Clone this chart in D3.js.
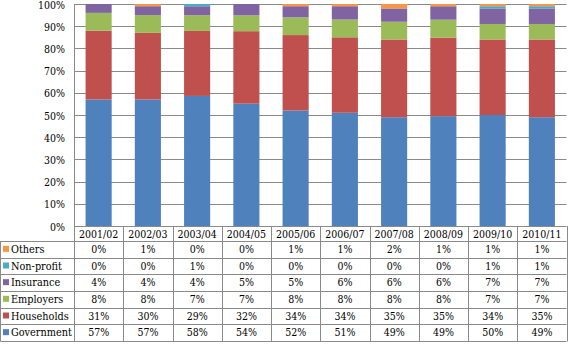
<!DOCTYPE html>
<html><head><meta charset="utf-8">
<script src="https://cdn.jsdelivr.net/npm/d3@7"></script>
<style>body{margin:0;background:#fff}svg{display:block}text{font-family:"DejaVu Serif Condensed","DejaVu Serif",serif}</style>
</head><body><svg id="c" width="568" height="345"></svg>
<script>
const years = ["2001/02","2002/03","2003/04","2004/05","2005/06","2006/07","2007/08","2008/09","2009/10","2010/11"];
const seriesNames = ["Government","Households","Employers","Insurance","Non-profit","Others"];
const government = [57,57,58,54,52,51,49,49,50,49];
const households = [31,30,29,32,34,34,35,35,34,35];
const employers  = [8,8,7,7,8,8,8,8,7,7];
const insurance  = [4,4,4,5,5,6,6,6,7,7];
const nonprofit  = [0,0,1,0,0,0,0,0,1,1];
const others     = [0,1,0,0,1,1,2,1,1,1];
const yTicks = [0,0.1,0.2,0.3,0.4,0.5,0.6,0.7,0.8,0.9,1];
const colors = ["#4f81bd","#c0504d","#9bbb59","#8064a2","#4bacc6","#f79646"];
const seriesValues = [government,households,employers,insurance,nonprofit,others];

const rows = years.map((y,i)=>{const o={year:y}; seriesNames.forEach((s,j)=>o[s]=seriesValues[j][i]); return o;});
const stack = d3.stack().keys(seriesNames).offset(d3.stackOffsetExpand)(rows);

const svg = d3.select("#c");
const L=74, R=566.5, T=4, B=226;
const x = d3.scaleBand().domain(years).range([L,R]).paddingInner(0.47).paddingOuter(0.235);
const xCol = d3.scaleBand().domain(years).range([L,R]);
const y = d3.scaleLinear().domain([0,1]).range([B,T]);
const grid = "#8a8a8a";
const fs = 10.5;

svg.append("g").selectAll("line").data(yTicks.filter(d=>d>0)).join("line")
  .attr("x1",L).attr("x2",R).attr("y1",d=>Math.round(y(d))+0.5).attr("y2",d=>Math.round(y(d))+0.5)
  .attr("stroke",grid).attr("stroke-width",1);

svg.append("g").selectAll("text").data(yTicks).join("text")
  .attr("x",65).attr("y",d=>y(d)+1).attr("dy","0.35em").attr("text-anchor","end")
  .attr("font-size",fs).attr("fill","#000")
  .text(d=>d3.format(".0%")(d));

svg.append("g").selectAll("g").data(stack).join("g")
  .attr("fill",(d,i)=>colors[i])
  .selectAll("rect").data(d=>d).join("rect")
  .attr("x",d=>x(d.data.year)).attr("width",x.bandwidth())
  .attr("y",d=>y(d[1])).attr("height",d=>Math.max(0,y(d[0])-y(d[1])));

svg.append("line").attr("x1",L+0.5).attr("x2",L+0.5).attr("y1",T).attr("y2",341.5)
  .attr("stroke",grid);

const hTop=226, hBot=241, rowH=(341-241)/6;
const tbl = svg.append("g");
tbl.append("line").attr("x1",L).attr("x2",R).attr("y1",hTop+0.5).attr("y2",hTop+0.5).attr("stroke",grid);
const tableOrder = ["Others","Non-profit","Insurance","Employers","Households","Government"];
for(let r=0;r<=6;r++){
  const yy = Math.round(hBot + r*rowH)+0.5;
  tbl.append("line").attr("x1",0.5).attr("x2",R).attr("y1",yy).attr("y2",yy).attr("stroke",grid);
}
tbl.append("line").attr("x1",0.5).attr("x2",0.5).attr("y1",hBot).attr("y2",341.5).attr("stroke",grid);
years.forEach(yr=>{
  const xx = Math.min(Math.round(xCol(yr)+xCol.bandwidth())+0.5,567.5);
  tbl.append("line").attr("x1",xx).attr("x2",xx).attr("y1",hTop).attr("y2",341.5).attr("stroke",grid);
});
tbl.selectAll("text.h").data(years).join("text").attr("class","h")
  .attr("x",d=>xCol(d)+xCol.bandwidth()/2).attr("y",(hTop+hBot)/2+0.5).attr("dy","0.35em")
  .attr("text-anchor","middle").attr("font-size",fs).text(d=>d);
tableOrder.forEach((s,r)=>{
  const j = seriesNames.indexOf(s);
  const cy = hBot + r*rowH + rowH/2;
  tbl.append("rect").attr("x",3).attr("y",cy-3.5).attr("width",6).attr("height",6).attr("fill",colors[j]);
  tbl.append("text").attr("x",11).attr("y",cy).attr("dy","0.35em")
    .attr("font-size",10.8).text(s);
  tbl.append("g").selectAll("text").data(years).join("text")
    .attr("x",d=>xCol(d)+xCol.bandwidth()/2).attr("y",cy).attr("dy","0.35em")
    .attr("text-anchor","middle").attr("font-size",fs)
    .text((d,i)=>seriesValues[j][i]+"%");
});
</script></body></html>
